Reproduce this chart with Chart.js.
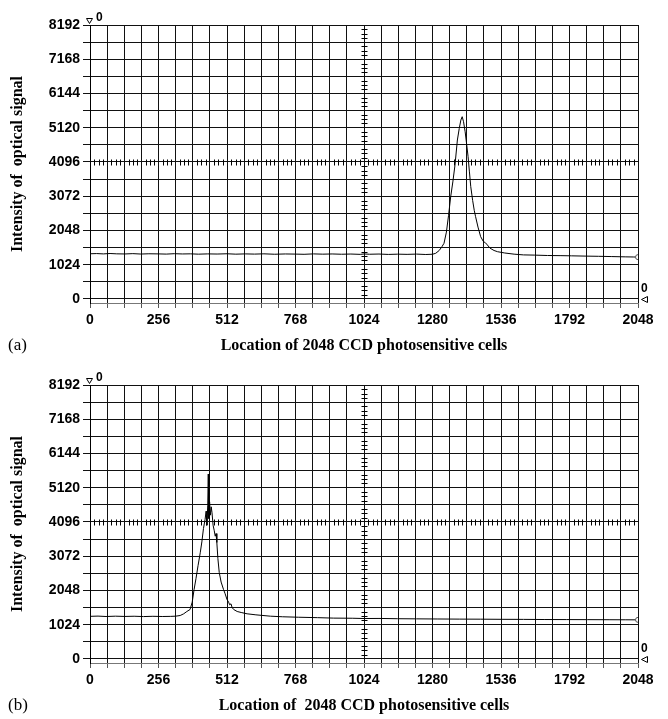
<!DOCTYPE html>
<html><head><meta charset="utf-8">
<script src="https://cdn.jsdelivr.net/npm/chart.js@4"></script>
<style>
body{margin:0;background:#fff;width:668px;height:719px;overflow:hidden;position:relative}
.panel{position:absolute;left:0;width:668px;height:360px}
.lab{position:absolute;left:8px;font:17px "Liberation Serif",serif;color:#000;line-height:20px}
</style></head><body>
<div class="panel" style="top:0"><canvas id="ca" width="668" height="360"></canvas></div>
<div class="panel" style="top:360px"><canvas id="cb" width="668" height="360"></canvas></div>
<div class="lab" style="top:335px">(a)</div>
<div class="lab" style="top:695px">(b)</div>
<script>
const xTicks = [0,256,512,768,1024,1280,1536,1792,2048];
const yTicks = [0,1024,2048,3072,4096,5120,6144,7168,8192];

const xA = [0,25,50,75,100,130,160,190,220,256,285,315,345,375,405,440,475,512,545,580,615,650,690,730,768,800,835,870,905,940,975,1010,1024,1045,1080,1115,1150,1185,1220,1255,1280,1292,1305,1315,1323,1332,1340,1348,1356,1364,1373,1380,1386,1391,1396,1402,1408,1413,1418,1423,1430,1436,1441,1450,1460,1470,1478,1485,1495,1510,1523,1550,1585,1620,1660,1710,1760,1800,1850,1900,1950,2000,2030,2048];
const yA = [1352,1358,1348,1360,1350,1346,1356,1344,1352,1348,1342,1354,1346,1350,1340,1348,1344,1352,1340,1348,1342,1350,1338,1346,1342,1336,1348,1340,1346,1338,1344,1334,1346,1338,1344,1332,1340,1334,1342,1330,1338,1366,1450,1560,1665,2000,2500,3059,3500,4000,4754,5100,5350,5450,5300,5000,4600,4255,3800,3358,2950,2650,2461,2150,1863,1720,1680,1615,1520,1450,1414,1375,1340,1318,1312,1300,1296,1290,1282,1276,1268,1260,1256,1252];

const xB = [0,30,60,95,130,165,200,235,270,300,320,337,350,362,374,382,389,396,404,412,418,424,430,434,437,440,442,444,447,450,453,456,460,464,468,471,474,478,483,490,499,505,512,518,522,527,531,537,550,565,587,620,674,720,780,850,911,980,1024,1080,1150,1220,1300,1380,1460,1540,1620,1700,1780,1860,1940,2000,2048];
const yB = [1275,1282,1270,1280,1272,1278,1268,1276,1270,1274,1280,1300,1350,1420,1480,1700,2078,2400,2800,3175,3500,3900,4170,4420,4000,4600,5531,4200,4700,4300,4550,4371,4000,3850,3672,3750,3483,3000,2586,2300,2078,1950,1779,1700,1620,1650,1540,1480,1420,1390,1351,1320,1280,1262,1248,1236,1222,1218,1210,1212,1204,1200,1196,1192,1190,1186,1184,1180,1178,1176,1174,1172,1170];

const tickFont = {family:'"Liberation Sans", Arial, sans-serif', size:14, weight:'bold'};
const titleFont = {family:'"Liberation Serif", "Times New Roman", serif', size:16, weight:'bold'};

const decor = {
  id:'decor',
  beforeDatasetsDraw(chart){
    const {ctx, scales:{x,y}} = chart;
    ctx.save(); ctx.strokeStyle='#000'; ctx.lineWidth=1;
    const cx = Math.round(x.getPixelForValue(1024))+0.5;
    const cy = Math.round(y.getPixelForValue(4096))+0.5;
    ctx.beginPath();
    for (let v=16; v<2048; v+=16){ if (v%64===0) continue; const px=Math.round(x.getPixelForValue(v))+0.5; ctx.moveTo(px, cy-3); ctx.lineTo(px, cy+3); }
    for (let v=128; v<8192; v+=128){ if (v%512===0) continue; const py=Math.round(y.getPixelForValue(v))+0.5; ctx.moveTo(cx-3, py); ctx.lineTo(cx+3, py); }
    ctx.stroke(); ctx.restore();
  },
  afterDraw(chart){
    const {ctx, chartArea:a, scales:{y}} = chart;
    const top = Math.round(y.getPixelForValue(8192)), zero = Math.round(y.getPixelForValue(0));
    ctx.save(); ctx.fillStyle='#000'; ctx.strokeStyle='#000'; ctx.lineWidth=1;
    ctx.beginPath(); ctx.moveTo(a.left-3.5, top-6.5); ctx.lineTo(a.left+2.5, top-6.5); ctx.lineTo(a.left-0.5, top-1.5); ctx.closePath(); ctx.stroke();
    ctx.font='bold 12px "Liberation Sans", Arial, sans-serif'; ctx.textBaseline='alphabetic'; ctx.textAlign='left';
    ctx.fillText('0', a.left+6, top-4);
    ctx.fillText('0', a.right+3, zero-7);
    ctx.beginPath(); ctx.moveTo(a.right+9.5, zero-2.5); ctx.lineTo(a.right+9.5, zero+3.5); ctx.lineTo(a.right+3.5, zero+0.5); ctx.closePath(); ctx.stroke();
    ctx.restore();
  }
};

function makeChart(id, xs, ys, title){
  const pts = xs.map((v,i)=>({x:v,y:ys[i]}));
  return new Chart(document.getElementById(id), {
    type:'line',
    data:{datasets:[{data:pts, borderColor:'#000', borderWidth:1, tension:0, fill:false,
      pointRadius: c => c.dataIndex===pts.length-1 ? 2.5 : 0,
      pointBackgroundColor:'#fff', pointBorderColor:'#555', pointBorderWidth:1}]},
    options:{
      responsive:false, animation:false, devicePixelRatio:1,
      layout:{padding:{top:25,right:30,left:0,bottom:0}},
      plugins:{legend:{display:false}, tooltip:{enabled:false}},
      scales:{
        x:{type:'linear', min:0, max:2048,
          afterFit(s){ s.height = 57; },
          ticks:{stepSize:64, autoSkip:false, maxRotation:0, minRotation:0, padding:4, color:'#000', font:tickFont,
            callback:v => xTicks.includes(v) ? String(v) : ''},
          grid:{color:'#111', lineWidth:1, tickLength:5, tickColor:'#555'},
          border:{color:'#777', width:1},
          title:{display:true, text:title, color:'#000', font:titleFont, padding:{top:0,bottom:5}}},
        y:{type:'linear', min:-120, max:8192,
          afterBuildTicks(s){
            const t = [];
            for (let v = 0; v <= 8192; v += 512) t.push({value:v});
            s.ticks = t;
          },
          afterFit(s){ s.width = 90; },
          ticks:{autoSkip:false, padding:3, color:'#000', font:tickFont,
            callback:v => yTicks.includes(v) ? String(v) : ''},
          grid:{color:'#111', lineWidth:1, tickLength:7, tickColor:'#111'},
          border:{color:'#000', width:1},
          title:{display:true, text:'Intensity of  optical signal', color:'#000', font:titleFont, padding:{top:8,bottom:0}}}
      }
    },
    plugins:[decor]
  });
}
makeChart('ca', xA, yA, 'Location of 2048 CCD photosensitive cells');
makeChart('cb', xB, yB, 'Location of  2048 CCD photosensitive cells');
</script>
</body></html>
